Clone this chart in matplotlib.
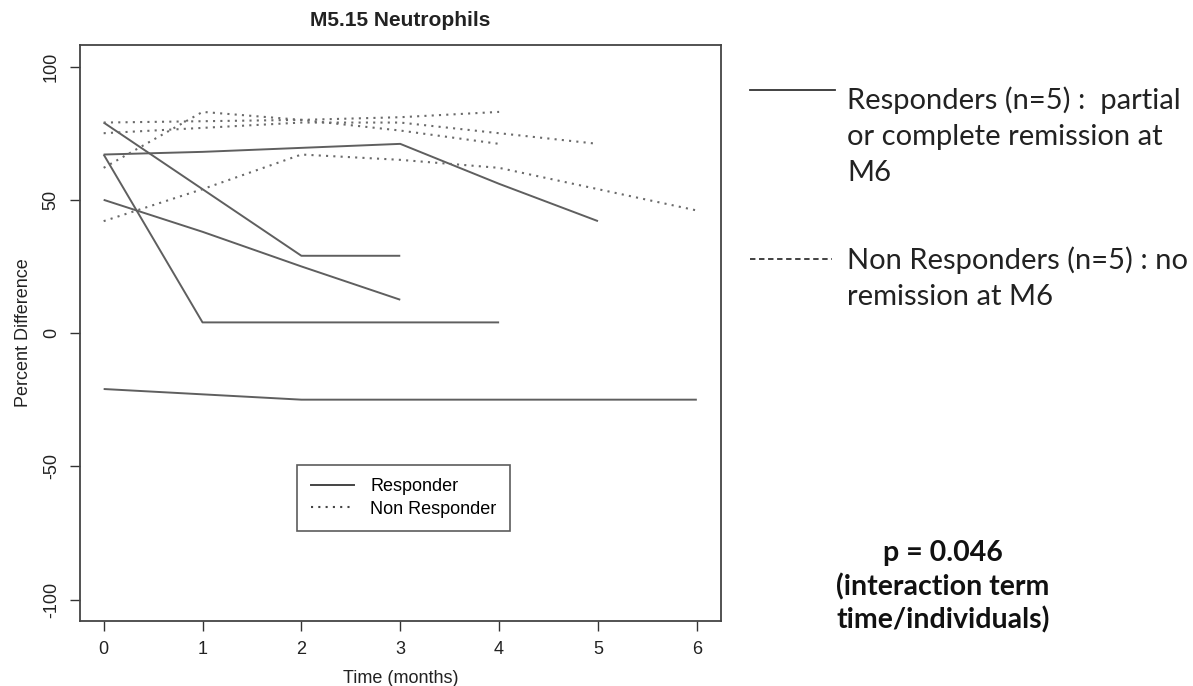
import matplotlib
matplotlib.use("Agg")
import matplotlib.pyplot as plt
from matplotlib.lines import Line2D

plt.rcParams['font.family'] = ['Liberation Sans', 'DejaVu Sans']

# responders (solid)
resp_months = [
    [0, 1, 2, 3],
    [0, 1, 2, 3, 4],
    [0, 1, 2, 3],
    [0, 1, 2, 3, 4, 5],
    [0, 1, 2, 3, 4, 5, 6],
]
resp_values = [
    [79, 54, 29, 29],
    [67, 4, 4, 4, 4],
    [50, 38, 25, 12.5],
    [67, 68, 69.5, 71, 56, 42],
    [-21, -23, -25, -25, -25, -25, -25],
]

# non responders (dotted)
nonresp_months = [
    [0, 1, 2, 3, 4],
    [0, 1, 2, 3, 4, 5],
    [0, 1, 2, 3, 4],
    [0, 1, 2, 3, 4, 5, 6],
]
nonresp_values = [
    [79, 79.5, 80, 81, 83],
    [75, 77, 79, 79, 75, 71],
    [62, 83, 80, 76, 71],
    [42, 54, 67, 65, 62, 54, 46],
]

x_ticks = [0, 1, 2, 3, 4, 5, 6]
y_ticks = [-100, -50, 0, 50, 100]

line_col = "#5f5f5f"

fig = plt.figure(figsize=(11.93, 6.86), dpi=100)
ax = fig.add_axes([0.067, 0.095, 0.537, 0.839])

for m, v in zip(resp_months, resp_values):
    ax.plot(m, v, color=line_col, lw=1.4, solid_capstyle="butt")
for m, v in zip(nonresp_months, nonresp_values):
    ax.plot(m, v, color="#6a6a6a", lw=1.5, linestyle=(0, (1, 2.5)))

ax.set_xlim(-0.24, 6.24)
ax.set_ylim(-108, 108)
ax.set_xticks(x_ticks)
ax.set_yticks(y_ticks)
ax.set_yticklabels([str(t) for t in y_ticks], rotation=90, va="center")
ax.tick_params(direction="out", length=7.5, width=1, colors="#333333",
               labelsize=13, labelcolor="#222222", pad=7)
for s in ax.spines.values():
    s.set_color("#444444")
    s.set_linewidth(1.3)

ax.set_title("M5.15 Neutrophils", fontsize=15, fontweight="bold",
             color="#222222", pad=14)
ax.set_xlabel("Time (months)", fontsize=13, color="#222222", labelpad=9)
ax.set_ylabel("Percent Difference", fontsize=13, color="#222222", labelpad=8)

handles = [Line2D([], [], color="#444444", lw=1.4),
           Line2D([], [], color="#444444", lw=1.5, linestyle=(0, (1, 2.5)))]
leg = ax.legend(handles, ["Responder", "Non Responder"], loc="center",
                bbox_to_anchor=(0.505, 0.2135), fontsize=13, frameon=True,
                fancybox=False, handlelength=2.4, borderpad=0.75,
                labelspacing=0.3, handletextpad=0.9)
leg.get_frame().set_edgecolor("#333333")
leg.get_frame().set_linewidth(1.2)

# annotation on the right
fig.add_artist(Line2D([750 / 1193, 835 / 1193], [1 - 90 / 686, 1 - 90 / 686],
                      color="#333333", lw=1.3))
fig.add_artist(Line2D([750 / 1193, 832 / 1193], [1 - 259 / 686, 1 - 259 / 686],
                      color="#333333", lw=1.3, linestyle=(0, (3, 2))))
fig.text(847 / 1193, 1 - 136 / 686,
         "Responders (n=5) :  partial\nor complete remission at\nM6",
         family=["Lato", "DejaVu Sans"], fontsize=21, color="#222222",
         va="center", ha="left", linespacing=1.48)
fig.text(847 / 1193, 1 - 278 / 686,
         "Non Responders (n=5) : no\nremission at M6",
         family=["Lato", "DejaVu Sans"], fontsize=21, color="#222222",
         va="center", ha="left", linespacing=1.48)
fig.text(943 / 1193, 1 - 587 / 686,
         "p = 0.046\n(interaction term\ntime/individuals)",
         family=["Lato", "DejaVu Sans"], fontsize=20.5, fontweight="bold",
         color="#111111", va="center", ha="center", linespacing=1.3)

fig.savefig("out.png", dpi=100)
